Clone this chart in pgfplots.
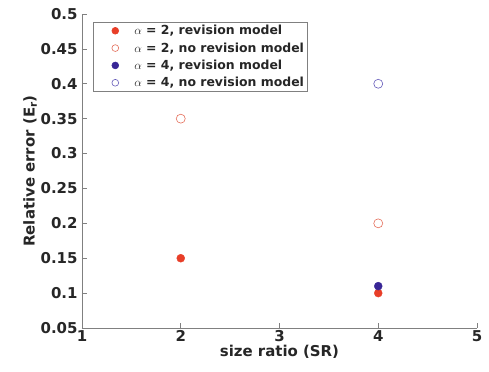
\documentclass[border=0pt]{standalone}
\usepackage{fontspec}
\setmainfont{DejaVu Sans}[BoldFont=DejaVu Sans Bold]
\usepackage{pgfplots}
\pgfplotsset{compat=1.18}
\definecolor{cred}{RGB}{232,62,40}
\definecolor{cblue}{RGB}{56,38,150}
\definecolor{cred2}{RGB}{228,110,90}
\definecolor{cblue2}{RGB}{100,90,185}
\definecolor{axgray}{RGB}{128,128,128}
\begin{document}
\begin{tikzpicture}
\path[use as bounding box] (-82bp,-44bp) rectangle (407bp,328bp);
\begin{axis}[
  at={(0,0)}, anchor=south west,
  scale only axis, width=395bp, height=314bp,
  xmin=1, xmax=5, ymin=0.05, ymax=0.5,
  xtick={1,2,3,4,5},
  ytick={0.05,0.1,0.15,0.2,0.25,0.3,0.35,0.4,0.45,0.5},
  axis x line*=bottom, axis y line*=left,
  axis line style={-, axgray, line width=0.6pt},
  tick style={axgray, line width=0.6pt},
  tick align=inside, major tick length=5bp,
  /pgf/number format/assume math mode=true,
  /pgf/number format/fixed, /pgf/number format/precision=2,
  ticklabel style={font=\fontsize{15}{17}\selectfont\bfseries, text=black!85},
  xticklabel style={yshift=1bp},
  yticklabel style={xshift=-1bp},
  xlabel={size ratio (SR)},
  ylabel={Relative error (E\textsubscript{r})},
  label style={font=\fontsize{15}{17}\selectfont\bfseries, text=black!85},
  xlabel style={yshift=4bp},
  ylabel style={yshift=-3bp},
  legend style={at={(11bp,306bp)}, anchor=north west, draw=axgray, line width=0.6pt,
    font=\fontsize{12.5}{14}\selectfont\bfseries, text=black!85,
    row sep=2.4pt, inner xsep=1pt, inner ysep=1pt},
  legend cell align=left,
  legend image code/.code={\path[draw=none,fill=none] (0,0) -- (38bp,0); \draw[#1] (21bp,0cm) circle (3.4bp);},
]
\addplot[only marks, mark=*, mark size=4bp, cred, draw=cred, fill=cred] coordinates {(2,0.15) (4,0.1)};
\addlegendentry{$\alpha$ = 2, revision model}
\addplot[only marks, mark=o, mark size=4.5bp, cred2, line width=0.6pt] coordinates {(2,0.35) (4,0.2)};
\addlegendentry{$\alpha$ = 2, no revision model}
\addplot[only marks, mark=*, mark size=4bp, cblue, draw=cblue, fill=cblue] coordinates {(4,0.11)};
\addlegendentry{$\alpha$ = 4, revision model}
\addplot[only marks, mark=o, mark size=4.5bp, cblue2, line width=0.6pt] coordinates {(4,0.4)};
\addlegendentry{$\alpha$ = 4, no revision model}
\end{axis}
\end{tikzpicture}
\end{document}
